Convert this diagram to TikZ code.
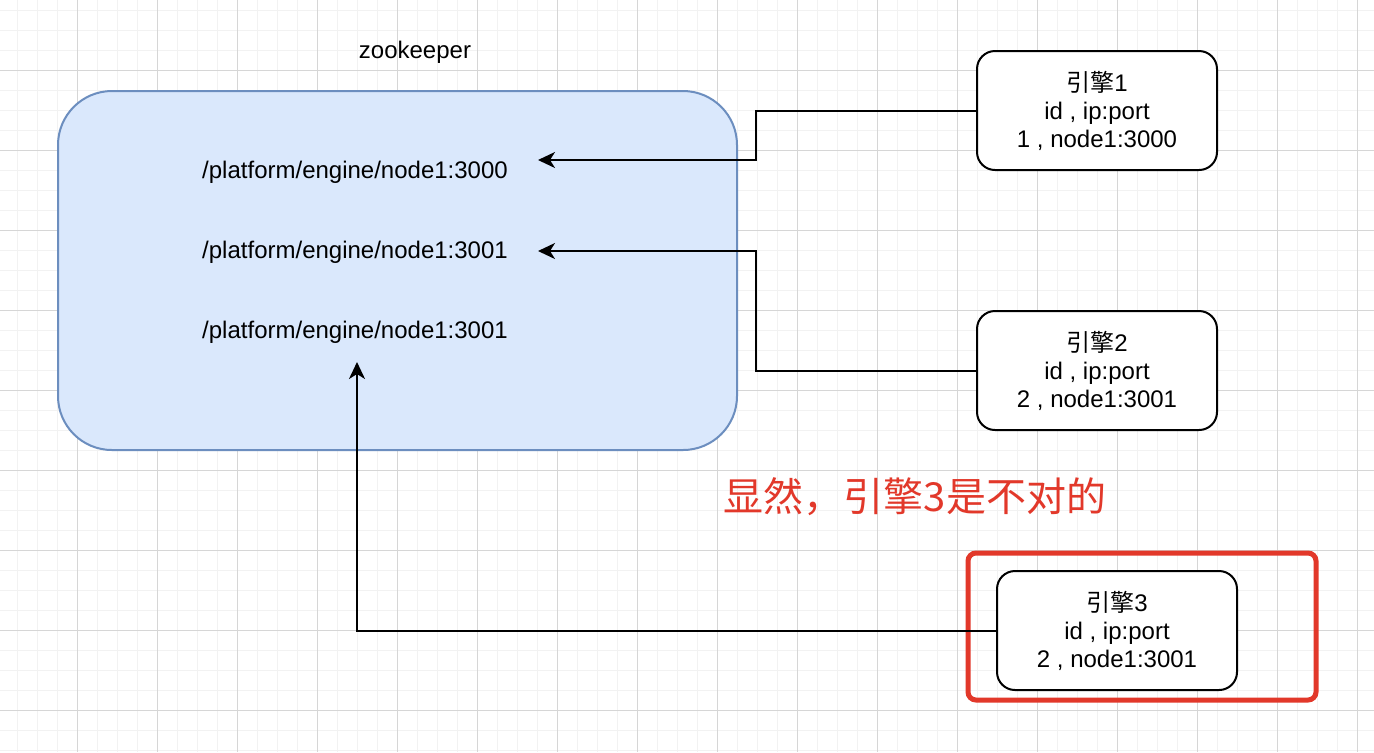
\documentclass[tikz,border=0pt]{standalone}
\usepackage{fontspec}
\setmainfont{Liberation Sans}
\newfontfamily\cjk{Noto Sans CJK SC}
\usetikzlibrary{arrows.meta,calc,positioning}
\definecolor{zkFill}{RGB}{218,232,252}
\definecolor{zkLine}{RGB}{108,142,191}
\definecolor{gridMinor}{RGB}{242,242,242}
\definecolor{gridMajor}{RGB}{214,214,214}
\definecolor{warnRed}{RGB}{226,56,42}
\tikzset{
	engine/.style={draw,line width=1pt,rounded corners=9pt,minimum width=120pt,minimum height=59.5pt,align=center,fill=white,font=\fontsize{12}{14}\selectfont},
	pathtxt/.style={font=\fontsize{12}{14}\selectfont,inner sep=0pt},
	link/.style={line width=1pt,-{Stealth[length=8.5pt,width=8pt,inset=2.5pt]}},
}
\begin{document}
\begin{tikzpicture}[x=0.5pt,y=-0.5pt]
\fill[white] (0,0) rectangle (1374,752);
\useasboundingbox (0,0) rectangle (1374,752);
\foreach \x in {17,37,...,1357} \draw[gridMinor,line width=0.5pt] (\x,0) -- (\x,752);
\foreach \y in {10,30,...,750} \draw[gridMinor,line width=0.5pt] (0,\y) -- (1374,\y);
\foreach \x in {77,157,...,1357} \draw[gridMajor,line width=0.5pt] (\x,0) -- (\x,752);
\foreach \y in {70,150,...,710} \draw[gridMajor,line width=0.5pt] (0,\y) -- (1374,\y);
\node [draw=zkLine,fill=zkFill,line width=1pt,rounded corners=27pt,minimum width=339.5pt,minimum height=179.5pt] (zk) at (397.5,270.5){};
\node [pathtxt] (zkLbl) at (415,52){zookeeper};
\node [pathtxt] (p1) at (355,172){/platform/engine/node1:3000};
\node [pathtxt] (p2) at ($(p1)+(0,80)$){/platform/engine/node1:3001};
\node [pathtxt] (p3) at ($(p2)+(0,80)$){/platform/engine/node1:3001};
\node [engine] (e1) at (1097,110.5){{\cjk 引擎}1\\id , ip:port\\1 , node1:3000};
\node [engine] (e2) at (1097,370.5){{\cjk 引擎}2\\id , ip:port\\2 , node1:3001};
\node [engine] (e3) at (1117,630.5){{\cjk 引擎}3\\id , ip:port\\2 , node1:3001};
\draw [warnRed,line width=2.5pt,rounded corners=4pt] (968,553) rectangle (1316,700);
\node [text=warnRed,font=\cjk\fontsize{20}{24}\selectfont] (note) at (915,497){显然，引擎3是不对的};
\coordinate (tip1) at (538,160);
\coordinate (tip2) at (538,251);
\coordinate (tip3) at (357,362);
\draw [link] (e1.west) -- ++(-220,0) |- (tip1);
\draw [link] (e2.west) -- ++(-220,0) |- (tip2);
\draw [link] (e3.west) -| (tip3);
\end{tikzpicture}
\end{document}
